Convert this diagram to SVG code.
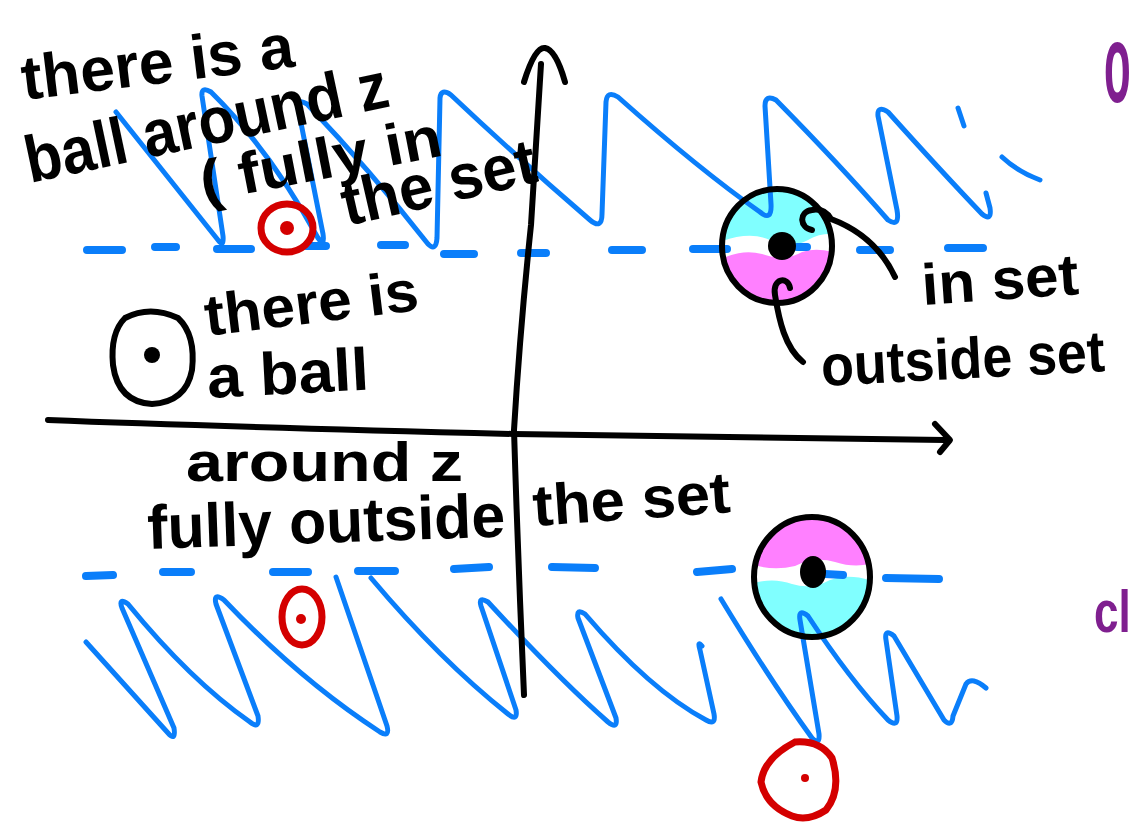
<svg xmlns="http://www.w3.org/2000/svg" width="1134" height="825" viewBox="0 0 1134 825">
<style>
.wave{fill:none;stroke:#0A7EFA;stroke-width:5;stroke-linecap:round;stroke-linejoin:round}
.dash{fill:none;stroke:#0A7EFA;stroke-width:8;stroke-linecap:round}
.ink{fill:none;stroke:#000;stroke-width:6;stroke-linecap:round;stroke-linejoin:round}
.red{fill:none;stroke:#D40000;stroke-width:7}
.hw{font-family:"Liberation Sans",Arial,sans-serif;font-weight:bold;fill:#000}
.pur{font-family:"Liberation Sans",Arial,sans-serif;font-weight:bold;fill:#7F1F8F}
</style>
<defs>
<clipPath id="cTop"><ellipse cx="777" cy="246" rx="55" ry="57"/></clipPath>
<clipPath id="cBot"><ellipse cx="812" cy="577" rx="58" ry="60"/></clipPath>
</defs>
<rect width="1134" height="825" fill="#fff"/>

<!-- ball fills -->
<g id="ball-fills">
<g clip-path="url(#cTop)">
<path d="M715,180 H845 V236 Q825,230 808,240 Q790,250 770,240 Q748,230 715,244 Z" fill="#80FFFF"/>
<path d="M715,262 Q740,248 762,254 Q785,262 802,252 Q820,246 845,256 V310 H715 Z" fill="#FF80FF"/>
</g>
<g clip-path="url(#cBot)">
<path d="M745,510 H880 V560 Q860,570 835,562 Q815,556 795,566 Q770,572 745,562 Z" fill="#FF80FF"/>
<path d="M745,586 Q770,576 792,584 Q812,590 830,580 Q852,572 880,584 V645 H745 Z" fill="#80FFFF"/>
</g>
</g>

<!-- blue set boundary: dashed lines -->
<g id="dashes">
<path class="dash" d="M87,250 L122,250 M155,247 L176,247 M217,249 L251,249 M306,246 L326,246 M381,245 L405,245 M444,254 L474,254 M521,253 L546,253 M612,250 L642,250 M693,249 L727,249 M797,247 L807,247 M860,250 L890,250 M948,248 L983,248"/>
<path class="dash" d="M86,576 L113,575 M163,572 L191,572 M273,572 L308,572 M358,571 L395,571 M454,569 L489,567 M552,567 L595,568 M697,572 L732,569 M825,574 L843,575 M886,578 L939,579"/>
</g>

<!-- blue waves (the set) -->
<g id="waves">
<path class="wave" d="M116,112 L218,240 Q224,248 223,236 L202,96 Q201,86 211,92 Q270,150 318,238 Q325,248 323,234 L298,108 Q297,98 307,104 Q370,170 428,244 Q436,252 437,238 L440,98 Q441,88 451,95 Q520,160 590,220 Q602,230 602,214 L606,102 Q607,90 618,97 Q700,170 760,212 Q772,222 771,204 L765,106 Q765,94 776,100 Q840,165 888,220 Q900,228 897,210 L878,116 Q877,105 888,112 Q940,170 982,214 Q992,222 990,208 L986,193"/>
<path class="wave" d="M958,108 L964,126 M1002,157 Q1018,172 1040,180"/>
<path class="wave" d="M86,642 L168,733 Q176,742 174,728 L122,608 Q118,597 128,604 Q190,680 250,722 Q260,730 258,716 L216,604 Q213,592 224,600 Q300,680 380,732 Q390,738 387,726 L336,577"/>
<path class="wave" d="M371,578 Q440,660 508,714 Q518,722 516,710 L481,606 Q478,596 488,602 Q560,680 608,722 Q618,730 616,718 L578,618 Q576,608 585,614 Q650,690 706,720 Q716,726 714,714 L700,650 Q697,640 702,646"/>
<path class="wave" d="M721,599 Q770,680 812,738 Q820,746 819,734 L800,620 Q798,608 808,616 Q850,680 888,720 Q898,728 897,716 L886,640 Q884,628 894,636 Q920,680 944,720 Q952,728 953,716 L966,684 Q972,676 986,688"/>
</g>

<!-- axes -->
<g id="axes">
<path class="ink" d="M541,64 Q536,150 531,225 Q520,330 514,430 Q518,560 524,695" stroke-width="5"/>
<path class="ink" d="M524,82 Q535,46 545,48 Q556,50 565,82"/>
<path class="ink" d="M48,420 Q200,426 514,434 Q730,437 945,440" stroke-width="5"/>
<path class="ink" d="M935,424 L950,440 L940,452"/>
</g>

<!-- right-hand balls -->
<g id="ball-top">
<ellipse cx="777" cy="246" rx="55" ry="57" class="ink" stroke-width="8"/>
<circle cx="782" cy="246" r="14" fill="#000"/>
</g>
<g id="ball-bottom">
<ellipse cx="812" cy="577" rx="58" ry="60" class="ink" stroke-width="8"/>
<ellipse cx="813" cy="572" rx="13" ry="16" fill="#000"/>
</g>

<!-- left black ball -->
<g id="ball-left">
<path class="ink" d="M125,318 Q150,305 178,318 Q196,335 192,370 Q186,402 152,404 Q118,402 113,365 Q110,333 125,318 Z"/>
<circle cx="152" cy="355" r="8" fill="#000"/>
</g>

<!-- red balls -->
<g id="red-top">
<ellipse cx="287" cy="228" rx="26" ry="24" class="red"/>
<circle cx="287" cy="228" r="7" fill="#D40000"/>
</g>
<g id="red-bottom-left">
<ellipse cx="302" cy="617" rx="20" ry="28" class="red"/>
<circle cx="301" cy="619" r="5" fill="#D40000"/>
</g>
<g id="red-bottom-right">
<path class="red" d="M795,742 Q820,740 832,758 Q842,790 826,810 Q808,822 792,816 Q766,806 761,782 Q764,758 795,742 Z"/>
<circle cx="805" cy="778" r="4" fill="#D40000"/>
</g>

<!-- connectors -->
<g id="connectors">
<path class="ink" d="M812,230 C800,228 798,212 812,210 C822,208 828,214 831,219 C855,228 880,245 895,277"/>
<path class="ink" d="M790,288 C788,276 772,278 775,295 C779,320 785,348 803,362"/>
</g>

<!-- labels -->
<g id="labels">
<text class="hw" font-size="62" x="24" y="100" textLength="274" lengthAdjust="spacingAndGlyphs" transform="rotate(-7 24 100)">there is a</text>
<text class="hw" font-size="66" x="30" y="183" textLength="370" lengthAdjust="spacingAndGlyphs" transform="rotate(-12 30 183)">ball around z</text>
<text class="hw" font-size="58" x="204" y="202" textLength="245" lengthAdjust="spacingAndGlyphs" transform="rotate(-11 204 202)">( fully in</text>
<text class="hw" font-size="64" x="347" y="226" textLength="198" lengthAdjust="spacingAndGlyphs" transform="rotate(-13 347 226)">the set</text>
<text class="hw" font-size="58" x="207" y="336" textLength="215" lengthAdjust="spacingAndGlyphs" transform="rotate(-7 207 336)">there is</text>
<text class="hw" font-size="60" x="208" y="398" textLength="162" lengthAdjust="spacingAndGlyphs" transform="rotate(-3 208 398)">a ball</text>
<text class="hw" font-size="56" x="186" y="481" textLength="277" lengthAdjust="spacingAndGlyphs">around z</text>
<text class="hw" font-size="62" x="148" y="549" textLength="358" lengthAdjust="spacingAndGlyphs" transform="rotate(-2 148 549)">fully outside</text>
<text class="hw" font-size="58" x="534" y="526" textLength="198" lengthAdjust="spacingAndGlyphs" transform="rotate(-4 534 526)">the set</text>
<text class="hw" font-size="58" x="923" y="305" textLength="157" lengthAdjust="spacingAndGlyphs" transform="rotate(-4 923 305)">in set</text>
<text class="hw" font-size="58" x="822" y="386" textLength="284" lengthAdjust="spacingAndGlyphs" transform="rotate(-3 822 386)">outside set</text>
<text class="pur" font-size="46" x="0" y="0" transform="translate(1104 102) scale(0.95 2.4)">o</text>
<text class="pur" font-size="44" x="0" y="0" transform="translate(1094 632) scale(1 1.35)">cl</text>
</g>
</svg>
